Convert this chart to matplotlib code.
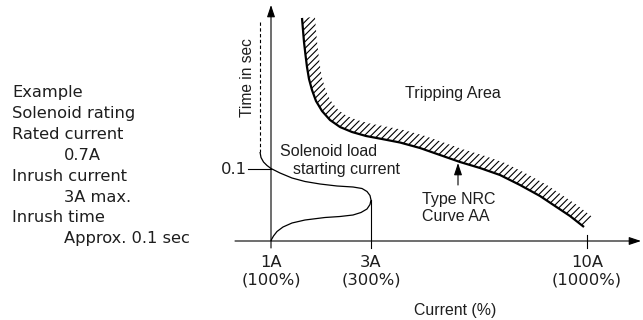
import numpy as np
import matplotlib
matplotlib.use("Agg")
import matplotlib.pyplot as plt
from matplotlib.patches import Polygon

# ---------------- data (schematic units, origin = 1A / axis crossing) ----------------
note_lines = ["Example", "Solenoid rating", "Rated current", "0.7A",
              "Inrush current", "3A max.", "Inrush time", "Approx. 0.1 sec"]
note_indent = [False, False, False, True, False, True, False, True]

tick_pos = [0, 100, 316]
tick_top = ["1A", "3A", "10A"]
tick_bottom = ["(100%)", "(300%)", "(1000%)"]
ytick_pos = 72
ytick_label = "0.1"

# Tripping curve (Type NRC, Curve AA)
trip_x = [31, 32, 33, 34.5, 36, 38, 41, 45, 51, 59, 69, 81, 95, 111, 129,
          149, 169, 189, 209, 229, 249, 269, 284, 299, 313]
trip_y = [223, 211, 199, 186, 174, 162, 151, 140, 130, 121, 114, 109, 105, 102, 98.5,
          93, 86, 79, 73, 66, 56, 45, 35, 25, 14]

# Solenoid starting current
sol_dash_x = [-11, -11]
sol_dash_y = [219, 89]
sol_x = [-11, -10, -7.5, -4, 0, 9, 21, 34, 49, 66, 82, 91, 96, 99, 100,
         99, 96, 90, 82, 69, 54, 34, 21, 12, 6, 2.5, 0.5, 0]
sol_y = [89, 83.5, 79, 75.5, 72.5, 68, 63, 59.5, 57, 55, 54, 52.5, 49.5, 45.5, 41,
         36.5, 32, 28.5, 26, 24.5, 23.5, 21, 18, 14, 9.5, 5, 1.5, 0]

# ---------------- figure ----------------
W, H, DPI = 643, 320, 100
fig = plt.figure(figsize=(W / DPI, H / DPI), dpi=DPI)
ax = fig.add_axes([0, 0, 1, 1])
ax.set_xlim(-271, W - 271)
ax.set_ylim(241 - H, 241)
ax.axis("off")

plt.rcParams["hatch.linewidth"] = 0.8
TXT = "#1e1e1e"
helv = "Liberation Sans"
wide = "DejaVu Sans"

# axes with arrows
arrow_style = "-|>,head_length=0.6,head_width=0.2"
ax.annotate("", xy=(370, 0), xytext=(-36, 0),
            arrowprops=dict(arrowstyle=arrow_style, mutation_scale=12, lw=0.8,
                            color="k", shrinkA=0, shrinkB=0))
ax.annotate("", xy=(0, 236), xytext=(0, -7),
            arrowprops=dict(arrowstyle=arrow_style, mutation_scale=12, lw=0.8,
                            color="k", shrinkA=0, shrinkB=0))

# x ticks
sol_tip = max(sol_x)
ax.plot([tick_pos[1], tick_pos[1]], [-7, sol_y[sol_x.index(sol_tip)]], color="k", lw=0.8)
ax.plot([tick_pos[2], tick_pos[2]], [-7, 6], color="k", lw=0.8)
# y tick
ax.plot([-23, 0], [ytick_pos, ytick_pos], color="k", lw=0.8)
ax.text(-24, ytick_pos, ytick_label, ha="right", va="center", fontsize=11.8,
        family=wide, color=TXT)

for xp, t1, t2 in zip(tick_pos, tick_top, tick_bottom):
    ax.text(xp, -25.7, t1, ha="center", va="baseline", fontsize=11.8, family=wide, color=TXT)
    ax.text(xp, -43.3, t2, ha="center", va="baseline", fontsize=11.8, family=wide, color=TXT)

# axis titles
ax.text(184, -74, "Current (%)", ha="center", va="baseline", fontsize=11.4,
        family=helv, color=TXT)
ax.text(-24, 163, "Time in sec", ha="center", va="center", rotation=90,
        fontsize=11.2, family=helv, color=TXT)

# solenoid curve
ax.plot(sol_dash_x, sol_dash_y, color="k", lw=0.8, linestyle=(0, (3, 2.2)))
ax.plot(sol_x, sol_y, color="k", lw=0.9, solid_capstyle="butt")

# tripping curve with hatched band on the tripping side
tx = np.array(trip_x, float)
ty = np.array(trip_y, float)
dx = np.gradient(tx)
dy = np.gradient(ty)
nrm = np.hypot(dx, dy)
nx, ny = -dy / nrm, dx / nrm
band = 13.0
ox, oy = tx + band * nx, ty + band * ny
poly = np.column_stack([np.concatenate([tx, ox[::-1]]), np.concatenate([ty, oy[::-1]])])
ax.add_patch(Polygon(poly, closed=True, facecolor="none", edgecolor="k",
                     linewidth=0, hatch="/////"))
ax.plot(tx, ty, color="k", lw=1.6, solid_capstyle="butt")

# labels
ax.text(182, 142.7, "Tripping Area", ha="center", va="baseline", fontsize=11.6,
        family=helv, color=TXT)
ax.text(9, 85.3, "Solenoid load", ha="left", va="baseline", fontsize=11.5,
        family=helv, color=TXT)
ax.text(22, 66.7, "starting current", ha="left", va="baseline", fontsize=11.5,
        family=helv, color=TXT)
ax.text(151, 37, "Type NRC", ha="left", va="baseline", fontsize=11.5,
        family=helv, color=TXT)
ax.text(151, 20.3, "Curve AA", ha="left", va="baseline", fontsize=11.5,
        family=helv, color=TXT)
ax.annotate("", xy=(187, 78), xytext=(187, 56),
            arrowprops=dict(arrowstyle=arrow_style, mutation_scale=12, lw=0.8,
                            color="k", shrinkA=0, shrinkB=0))

# left-hand notes
for i, (line, ind) in enumerate(zip(note_lines, note_indent)):
    ax.text(-207 if ind else -259, 144 - 20.9 * i, line, ha="left", va="baseline",
            fontsize=11.7, family=wide, color=TXT)

fig.savefig("out.png", dpi=DPI)
